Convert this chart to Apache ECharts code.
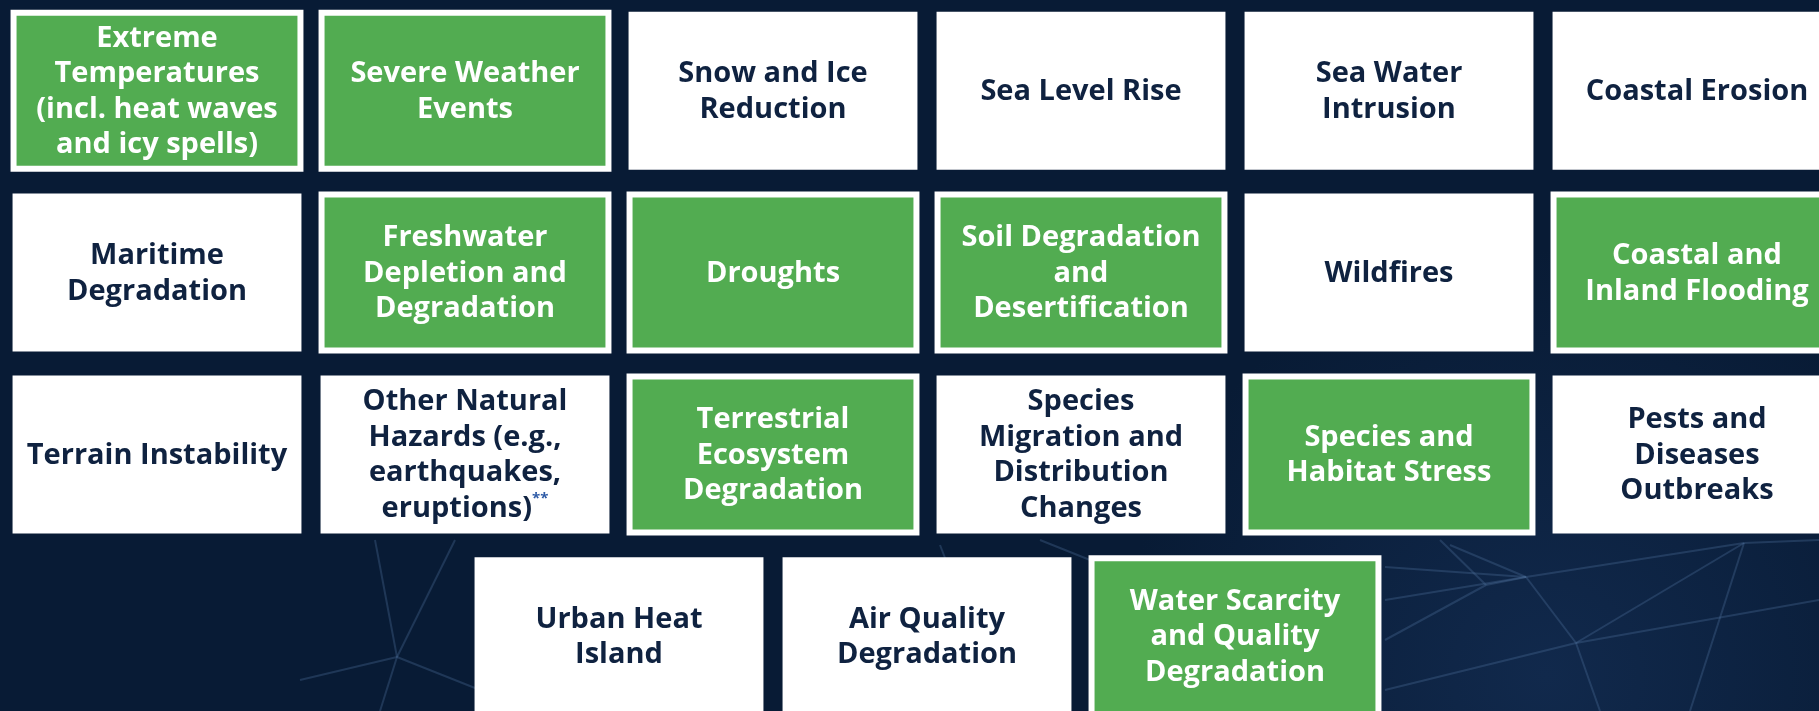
<!DOCTYPE html>
<html>
<head>
<meta charset="utf-8">
<script src="https://cdn.jsdelivr.net/npm/echarts@6/dist/echarts.min.js"></script>
<style>
html,body{margin:0;padding:0;background:#0a1c37;overflow:hidden;}
#chart{width:1819px;height:711px;}
</style>
</head>
<body>
<div id="chart"></div>
<script>
// ---- data ----
const labels = [
  "Extreme\nTemperatures\n(incl. heat waves\nand icy spells)",
  "Severe Weather\nEvents",
  "Snow and Ice\nReduction",
  "Sea Level Rise",
  "Sea Water\nIntrusion",
  "Coastal Erosion",
  "Maritime\nDegradation",
  "Freshwater\nDepletion and\nDegradation",
  "Droughts",
  "Soil Degradation\nand\nDesertification",
  "Wildfires",
  "Coastal and\nInland Flooding",
  "Terrain Instability",
  "Other Natural\nHazards (e.g.,\nearthquakes,\neruptions){sup|**}",
  "Terrestrial\nEcosystem\nDegradation",
  "Species\nMigration and\nDistribution\nChanges",
  "Species and\nHabitat Stress",
  "Pests and\nDiseases\nOutbreaks",
  "Urban Heat\nIsland",
  "Air Quality\nDegradation",
  "Water Scarcity\nand Quality\nDegradation"
];
const columns = [0,1,2,3,4,5, 0,1,2,3,4,5, 0,1,2,3,4,5, 1.5,2.5,3.5];
const rows    = [0,0,0,0,0,0, 1,1,1,1,1,1, 2,2,2,2,2,2, 3,3,3];
const highlighted = [1,1,0,0,0,0, 0,1,1,1,0,1, 0,0,1,0,1,0, 0,0,1];

const seriesData = labels.map((l, i) => [columns[i], rows[i], i]);

// layout calibration (pixels)
const W = 1819, H = 711;
const COL0 = 157, COL_PITCH = 308;
const ROW0 = 90.8, ROW_PITCH = 181.8;

const GREEN = '#52ac51';
const NAVY_TEXT = '#0f2240';

function renderItem(params, api) {
  const i = api.value(2);
  const c = api.coord([api.value(0), api.value(1)]);
  const s = api.size([1, 1]);
  const w = s[0] * 0.938, h = s[1] * 0.869;
  const x = c[0] - w / 2, y = c[1] - h / 2;
  const hl = highlighted[i] === 1;
  const children = [];
  if (hl) {
    children.push({type: 'rect', shape: {x: x - 2, y: y - 2, width: w + 4, height: h + 4}, style: {fill: '#ffffff'}});
    children.push({type: 'rect', shape: {x: x + 4, y: y + 4, width: w - 8, height: h - 8}, style: {fill: GREEN}});
  } else {
    children.push({type: 'rect', shape: {x: x, y: y, width: w, height: h}, style: {fill: '#ffffff'}});
  }
  children.push({
    type: 'text',
    style: {
      x: c[0], y: c[1] + 1,
      text: labels[i],
      align: 'center', verticalAlign: 'middle',
      fontFamily: 'Open Sans', fontWeight: 700, fontSize: 29, lineHeight: 35.5,
      fill: hl ? '#ffffff' : NAVY_TEXT,
      rich: {
        sup: {fontSize: 15, fontWeight: 700, fontFamily: 'Open Sans', fill: '#2d5aa6', lineHeight: 20, verticalAlign: 'top'}
      }
    }
  });
  return {type: 'group', children: children};
}

// decorative background network lines
const bgLines = [
  [[1385,567],[1526,577]], [[1385,600],[1526,577]], [[1486,585],[1526,577]],
  [[1526,577],[1744,543]], [[1526,577],[1576,643]], [[1526,577],[1450,545]],
  [[1385,690],[1576,643]], [[1576,643],[1744,543]], [[1576,643],[1600,711]],
  [[1576,643],[1819,600]], [[1744,543],[1690,711]], [[1744,543],[1819,540]],
  [[1385,640],[1486,585]], [[1486,585],[1440,540]],
  [[397,657],[375,540]], [[397,657],[455,540]], [[397,657],[480,690]],
  [[397,657],[300,680]], [[397,657],[380,711]],
  [[940,545],[1000,700]], [[1040,540],[1090,560]]
];
const graphics = [{
  type: 'rect', z: -10, silent: true,
  shape: {x: 0, y: 0, width: W, height: H},
  style: {fill: new echarts.graphic.RadialGradient(0.85, 0.95, 0.6, [
    {offset: 0, color: '#11294c'}, {offset: 1, color: '#081b35'}])}
}].concat(bgLines.map(p => ({
  type: 'line', z: -5, silent: true,
  shape: {x1: p[0][0], y1: p[0][1], x2: p[1][0], y2: p[1][1]},
  style: {stroke: 'rgba(80,115,160,0.32)', lineWidth: 2}
})));

const chart = echarts.init(document.getElementById('chart'));
chart.setOption({
  backgroundColor: '#0a1c37',
  animation: false,
  graphic: graphics,
  grid: {left: 0, top: 0, right: 0, bottom: 0, outerBoundsMode: 'none'},
  xAxis: {type: 'value', min: -COL0 / COL_PITCH, max: (W - COL0) / COL_PITCH, show: false},
  yAxis: {type: 'value', min: -ROW0 / ROW_PITCH, max: (H - ROW0) / ROW_PITCH, inverse: true, show: false},
  series: [{
    type: 'custom',
    renderItem: renderItem,
    data: seriesData,
    clip: false,
    z: 5
  }]
});
</script>
</body>
</html>
